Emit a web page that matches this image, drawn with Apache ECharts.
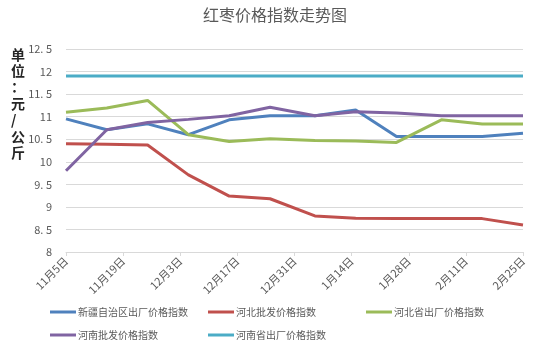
<!DOCTYPE html>
<html><head><meta charset="utf-8">
<script src="https://cdn.jsdelivr.net/npm/echarts@6/dist/echarts.min.js"></script>
<style>html,body{margin:0;padding:0;background:#fff}#c{width:550px;height:348px}</style>
</head><body><div id="c"></div>
<script>
// day offsets from Nov 5 for each observation (roughly every 10 days)
const dayOffsets = [0, 10, 20, 30, 40, 50, 61, 71, 81, 92, 102, 112];
const tickLabels = ['11月5日','11月19日','12月3日','12月17日','12月31日','1月14日','1月28日','2月11日','2月25日'];
const xinjiang = [10.95, 10.71, 10.84, 10.60, 10.93, 11.02, 11.02, 11.15, 10.56, 10.56, 10.56, 10.63];
const hebeiWholesale = [10.40, 10.39, 10.37, 9.71, 9.24, 9.18, 8.80, 8.75, 8.74, 8.74, 8.74, 8.60];
const hebeiFactory = [11.10, 11.19, 11.36, 10.60, 10.45, 10.51, 10.47, 10.46, 10.43, 10.93, 10.84, 10.84];
const henanWholesale = [9.80, 10.71, 10.87, 10.94, 11.02, 11.21, 11.02, 11.11, 11.08, 11.02, 11.02, 11.02];
const henanFactory = [11.9, 11.9, 11.9, 11.9, 11.9, 11.9, 11.9, 11.9, 11.9, 11.9, 11.9, 11.9];
const seriesNames = ['新疆自治区出厂价格指数','河北批发价格指数','河北省出厂价格指数','河南批发价格指数','河南省出厂价格指数'];
const colors = ['#4F81BD','#C0504D','#9BBB59','#8064A2','#4BACC6'];
const allData = [xinjiang, hebeiWholesale, hebeiFactory, henanWholesale, henanFactory];

const font = '"Noto Sans CJK SC", sans-serif';
const chart = echarts.init(document.getElementById('c'));
const legendPos = [[45,302],[203,302],[361,302],[45,325],[203,325]];
chart.setOption({
  animation: false,
  color: colors,
  title: {text: '红枣价格指数走势图', left: 'center', top: 2,
    textStyle: {fontFamily: font, fontSize: 16, fontWeight: 'normal', color: '#595959'}},
  graphic: [{type: 'text', left: 11, top: 46,
    style: {text: '单\n位\n：\n元\n/\n公\n斤', font: 'bold 14px "Noto Sans CJK SC"', fill: '#262626', lineHeight: 16.4, align: 'center'}}],
  legend: seriesNames.map((n, i) => ({
    data: [n], left: legendPos[i][0], top: legendPos[i][1], icon: 'rect', itemWidth: 26, itemHeight: 3, itemGap: 2,
    textStyle: {fontFamily: font, fontSize: 10, color: '#595959', padding: [0,0,0,-3]}
  })),
  grid: {left: 66, right: 27, top: 49, bottom: 96},
  xAxis: {type: 'value', min: 0, max: 112, interval: 14,
    axisLine: {show: true, lineStyle: {color: '#d9d9d9'}},
    axisTick: {show: true, length: 4, lineStyle: {color: '#d9d9d9'}},
    splitLine: {show: false},
    axisLabel: {rotate: 45, fontFamily: font, fontSize: 11, color: '#595959', margin: 7,
      formatter: v => tickLabels[Math.round(v / 14)] || ''}},
  yAxis: {type: 'value', min: 8, max: 12.5, interval: 0.5,
    axisLine: {show: false}, axisTick: {show: false},
    splitLine: {lineStyle: {color: '#d9d9d9'}},
    axisLabel: {fontFamily: font, fontSize: 11, color: '#595959', margin: 14,
      formatter: v => String(v).replace('.', '. ')}},
  series: allData.map((d, i) => ({
    name: seriesNames[i], type: 'line', symbol: 'none',
    lineStyle: {width: 3, color: colors[i]},
    data: d.map((v, j) => [dayOffsets[j], v])
  }))
});
</script></body></html>
